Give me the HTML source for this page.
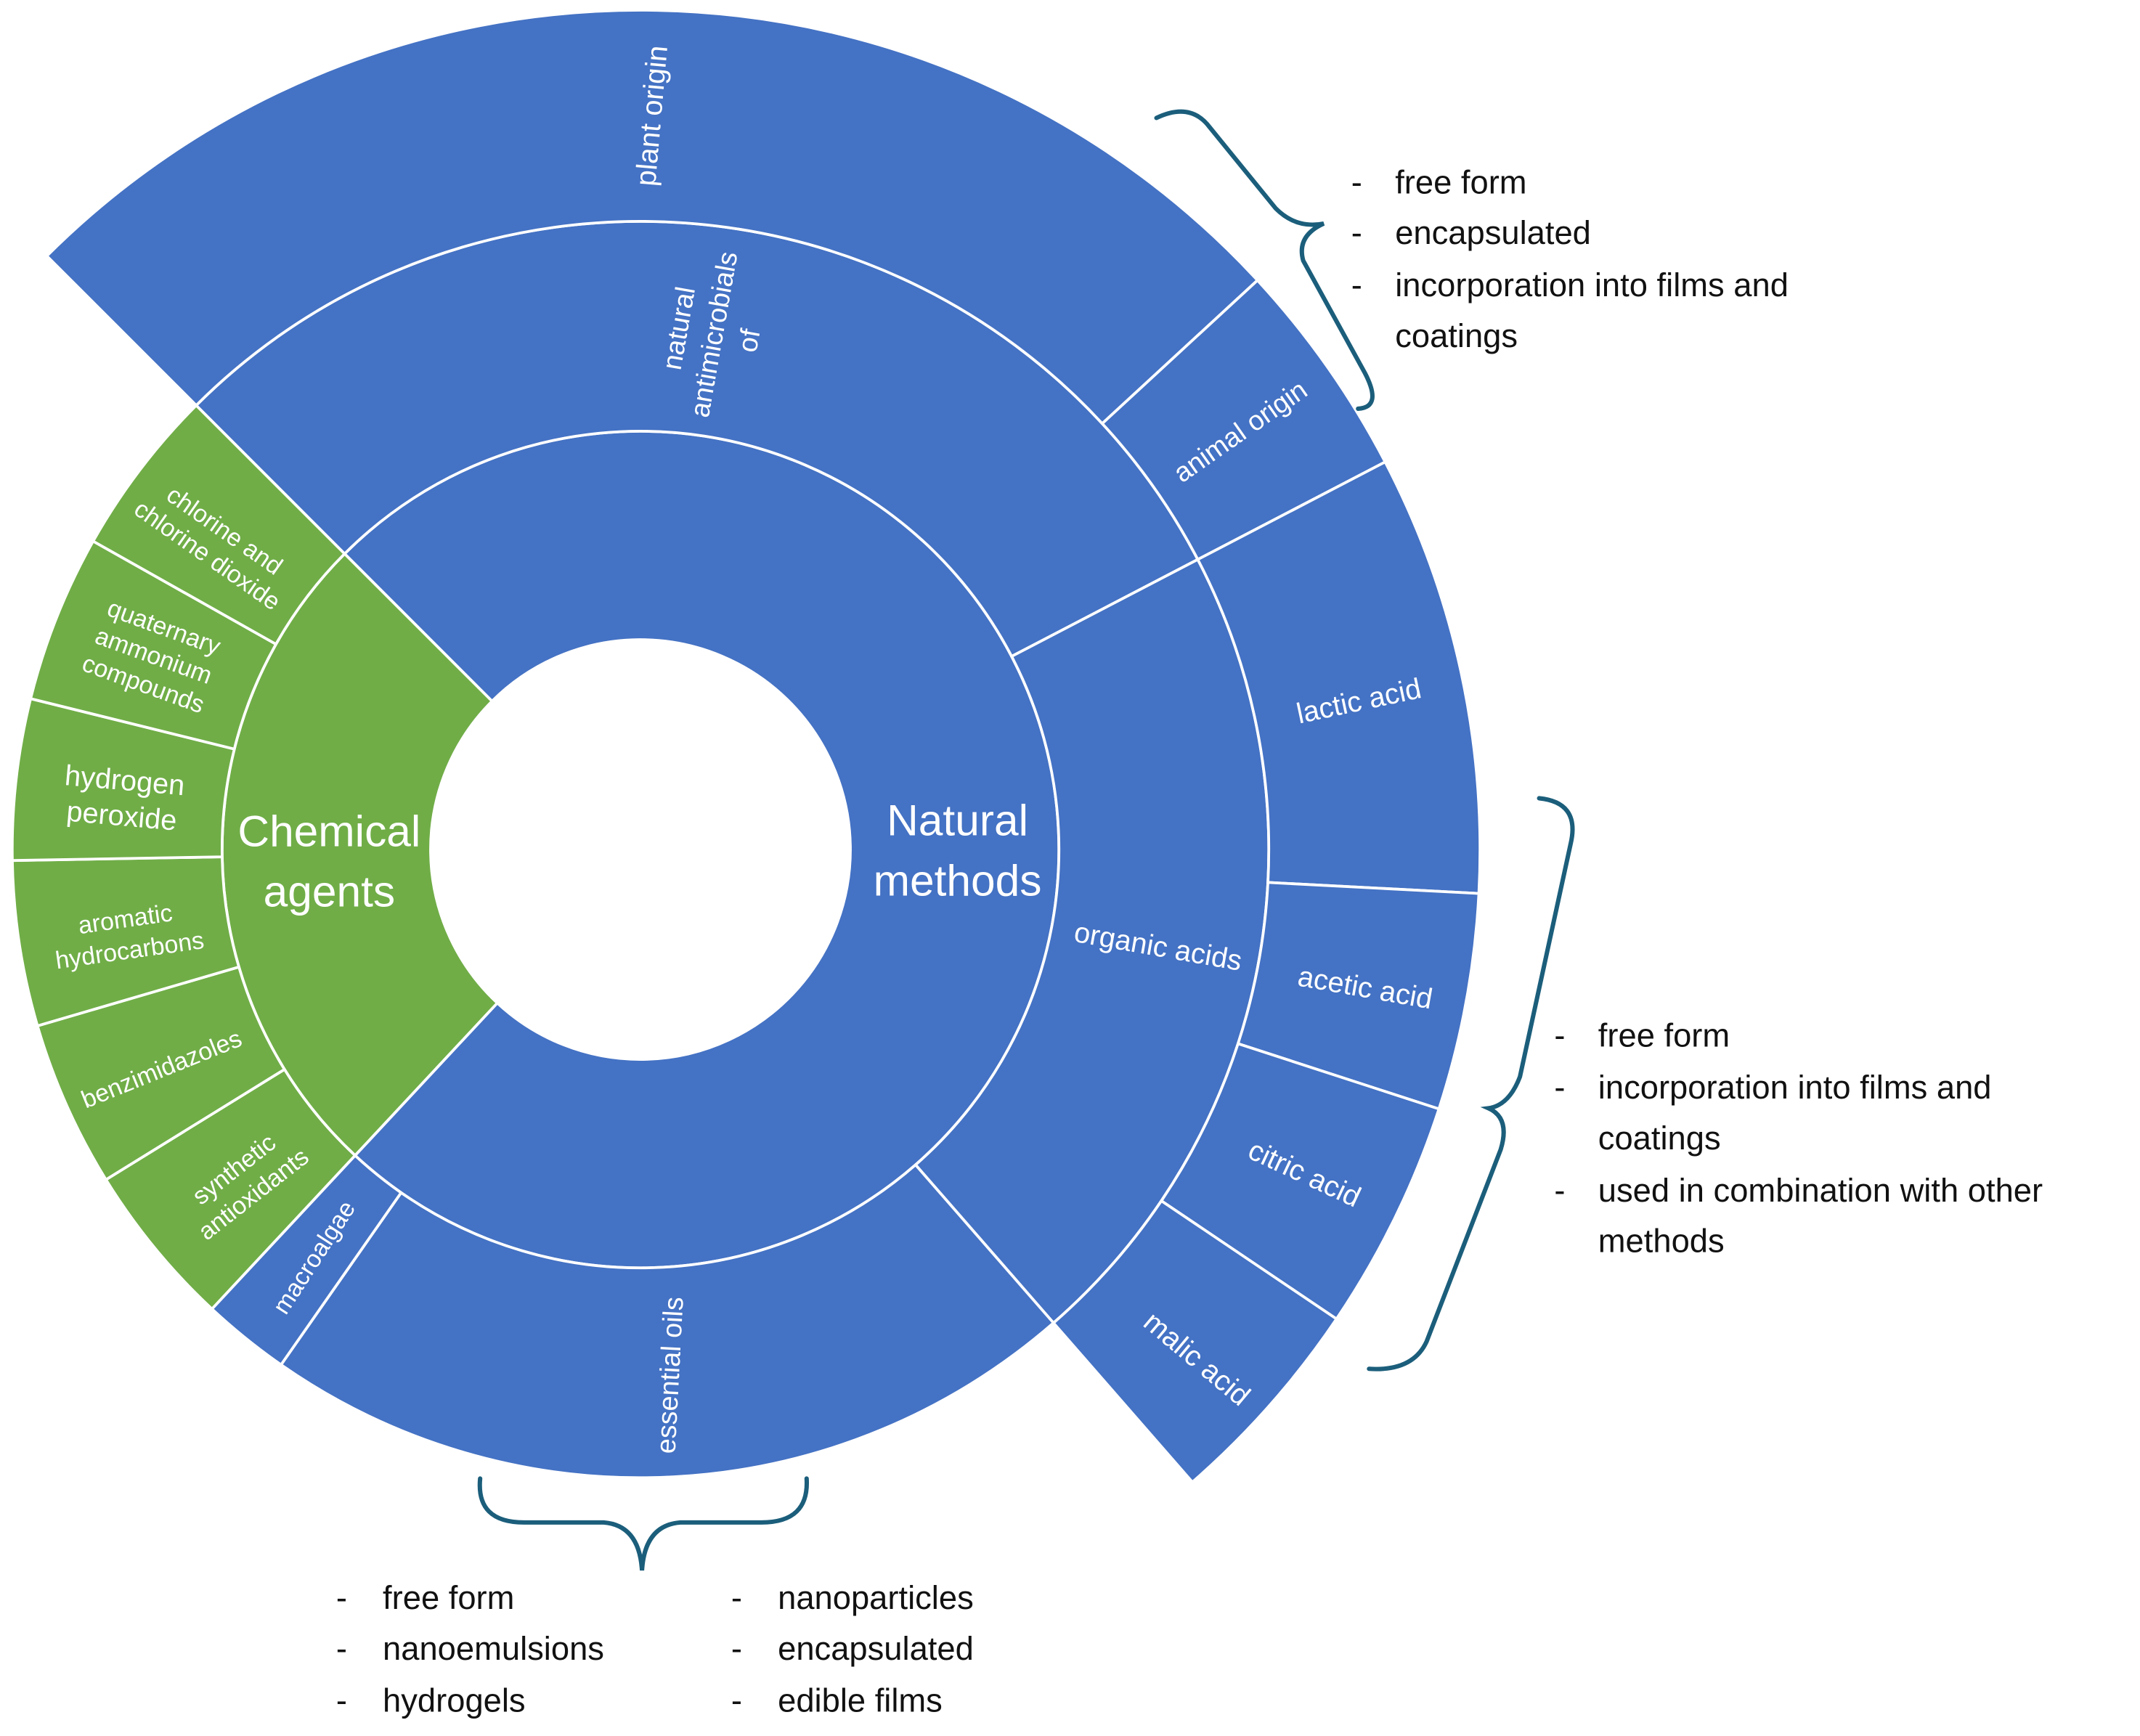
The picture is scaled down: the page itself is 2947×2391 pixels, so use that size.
<!DOCTYPE html>
<html><head><meta charset="utf-8">
<style>
html,body{margin:0;padding:0;background:#fff;}
svg{display:block;}
.w{fill:#fff;font-family:"Liberation Sans",sans-serif;}
.b{fill:#111;font-family:"Liberation Sans",sans-serif;font-size:24px;}
</style></head>
<body>
<svg id="s" width="2947" height="2391" viewBox="0 0 1560 1265.7" preserveAspectRatio="none" xmlns="http://www.w3.org/2000/svg">
<g id="sec" stroke="#fff" stroke-width="2" stroke-linejoin="round"></g>

<!-- labels -->
<g class="w">
<text x="0" y="0" font-size="21" text-anchor="middle" transform="translate(482,85) rotate(-85)" class="w">plant origin</text>
<g transform="translate(527,245) rotate(-80)" font-size="20" text-anchor="middle">
<text x="0" y="-26" class="w">natural</text>
<text x="0" y="0" class="w">antimicrobials</text>
<text x="0" y="26" class="w">of</text>
</g>
<text font-size="20" text-anchor="middle" transform="translate(908,320) rotate(-35)" class="w">animal origin</text>
<text font-size="21" text-anchor="middle" transform="translate(992,518) rotate(-12)" class="w">lactic acid</text>
<text font-size="21" text-anchor="middle" transform="translate(994,727) rotate(10)" class="w">acetic acid</text>
<text font-size="21" text-anchor="middle" transform="translate(948,862) rotate(25)" class="w">citric acid</text>
<text font-size="21" text-anchor="middle" transform="translate(868,996) rotate(40)" class="w">malic acid</text>
<text font-size="21" text-anchor="middle" transform="translate(843,697) rotate(10)" class="w">organic acids</text>
<text font-size="20" text-anchor="middle" transform="translate(495,1003) rotate(-87)" class="w">essential oils</text>
<text font-size="18" text-anchor="middle" transform="translate(234,920) rotate(-57)" class="w">macroalgae</text>
<text font-size="32" text-anchor="middle" x="698" y="609" class="w">Natural</text>
<text font-size="32" text-anchor="middle" x="698" y="653" class="w">methods</text>
<text font-size="32" text-anchor="middle" x="240" y="617" class="w">Chemical</text>
<text font-size="32" text-anchor="middle" x="240" y="661" class="w">agents</text>
<g transform="translate(158,395) rotate(35)" font-size="18" text-anchor="middle">
<text y="-4" class="w">chlorine and</text><text y="18" class="w">chlorine dioxide</text></g>
<g transform="translate(112,478) rotate(20)" font-size="18" text-anchor="middle">
<text y="-16" class="w">quaternary</text><text y="6" class="w">ammonium</text><text y="28" class="w">compounds</text></g>
<g transform="translate(90,580) rotate(5)" font-size="21" text-anchor="middle">
<text y="-4" class="w">hydrogen</text><text y="22" class="w">peroxide</text></g>
<g transform="translate(93,682) rotate(-8)" font-size="18" text-anchor="middle">
<text y="-6" class="w">aromatic</text><text y="17" class="w">hydrocarbons</text></g>
<text font-size="18" text-anchor="middle" transform="translate(120,785) rotate(-22)" class="w">benzimidazoles</text>
<g transform="translate(178,862) rotate(-38)" font-size="18" text-anchor="middle">
<text y="-6" class="w">synthetic</text><text y="17" class="w">antioxidants</text></g>
</g>

<!-- braces -->
<g fill="none" stroke="#1B5E7B" stroke-width="3.2" stroke-linecap="round">
<path d="M843,86 Q868,74 882,93 L930,152 Q945,167 965,163 Q945,172 950,190 L995,272 Q1008,297 990,298"/>
<path d="M1122,582 Q1152,585 1145,615 L1108,785 Q1100,806 1085,808 Q1101,815 1094,838 L1040,978 Q1030,1000 998,998"/>
<path d="M350,1078 Q347,1110 382,1110 L440,1110 Q466,1112 468,1145 Q470,1112 496,1110 L555,1110 Q590,1110 588,1078"/>
</g>

<!-- lists -->
<g class="b">
<text x="985" y="141" class="b">-</text><text x="1017" y="141" class="b">free form</text>
<text x="985" y="178" class="b">-</text><text x="1017" y="178" class="b">encapsulated</text>
<text x="985" y="216" class="b">-</text><text x="1017" y="216" class="b">incorporation into films and</text>
<text x="1017" y="253" class="b">coatings</text>

<text x="1133" y="763" class="b">-</text><text x="1165" y="763" class="b">free form</text>
<text x="1133" y="801" class="b">-</text><text x="1165" y="801" class="b">incorporation into films and</text>
<text x="1165" y="838" class="b">coatings</text>
<text x="1133" y="876" class="b">-</text><text x="1165" y="876" class="b">used in combination with other</text>
<text x="1165" y="913" class="b">methods</text>

<text x="245" y="1173" class="b">-</text><text x="279" y="1173" class="b">free form</text>
<text x="245" y="1210" class="b">-</text><text x="279" y="1210" class="b">nanoemulsions</text>
<text x="245" y="1248" class="b">-</text><text x="279" y="1248" class="b">hydrogels</text>
<text x="533" y="1173" class="b">-</text><text x="567" y="1173" class="b">nanoparticles</text>
<text x="533" y="1210" class="b">-</text><text x="567" y="1210" class="b">encapsulated</text>
<text x="533" y="1248" class="b">-</text><text x="567" y="1248" class="b">edible films</text>
</g>
</svg>
<script>
(function(){
var cx=466.9,cy=619.4,R=[153,305,458,612];
var B="#4472C4",G="#70AD47";
function p(r,a){a=a*Math.PI/180;return (cx+r*Math.cos(a)).toFixed(2)+","+(cy+r*Math.sin(a)).toFixed(2);}
function arc(ri,ro,a1,a2){var l=(a2-a1)>180?1:0;
return "M"+p(ri,a1)+" L"+p(ro,a1)+" A"+ro+","+ro+" 0 "+l+" 1 "+p(ro,a2)+" L"+p(ri,a2)+" A"+ri+","+ri+" 0 "+l+" 0 "+p(ri,a1)+" Z";}
var s=[
[0,1,133,225,G],[0,1,225,493,B],
[1,2,133,148.3,G],[1,2,148.3,163.7,G],[1,2,163.7,179,G],[1,2,179,193.9,G],[1,2,193.9,209.4,G],[1,2,209.4,225,G],
[1,2,225,332.5,B],[1,2,332.5,408.9,B],[1,2,48.9,124.9,B],[1,2,124.9,133,B],
[2,3,225,317.3,B],[2,3,317.3,332.5,B],[2,3,332.5,363,B],[2,3,363,378,B],[2,3,378,394,B],[2,3,394,408.9,B]
];
var g=document.getElementById("sec"),h="";
s.forEach(function(x){h+='<path fill="'+x[4]+'" d="'+arc(R[x[0]],R[x[1]],x[2],x[3])+'"/>';});
g.innerHTML=h;
})();
</script>
</body></html>
